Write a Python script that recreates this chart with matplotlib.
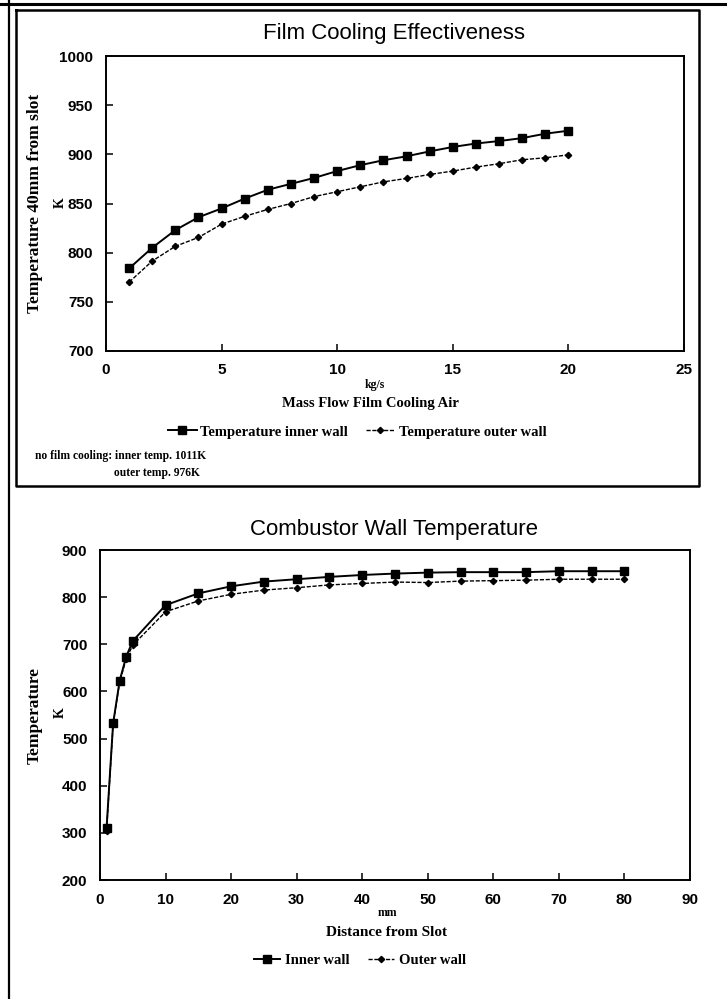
import matplotlib
matplotlib.use("Agg")
import matplotlib.pyplot as plt
from matplotlib import font_manager
from matplotlib.lines import Line2D

# ---- data -------------------------------------------------------------
flow_kgs = [1, 2, 3, 4, 5, 6, 7, 8, 9, 10, 11, 12, 13, 14, 15, 16, 17, 18, 19, 20]
temp_inner_flow = [784, 805, 823, 836, 845, 855, 864, 870, 876, 883,
                   889, 894, 898, 903, 907.5, 911, 913.5, 916.5, 921, 924]
temp_outer_flow = [770, 791.5, 806.5, 815.5, 829, 837, 844, 850, 857, 862,
                   867, 872, 875.5, 879.5, 883, 887, 890.5, 894.5, 896.5, 899.5]

dist_mm = [1, 2, 3, 4, 5, 10, 15, 20, 25, 30, 35, 40, 45, 50, 55, 60, 65, 70, 75, 80]
temp_inner_wall = [310, 532, 623, 674, 707, 783, 808, 823, 833, 838,
                   843, 847, 850, 852, 853, 853, 853, 855, 855, 855]
temp_outer_wall = [305, 530, 620, 669, 698, 769, 792, 806, 815, 820,
                   826, 829, 832, 831, 834, 835, 836, 838, 838, 838]

flow_xticks = [0, 5, 10, 15, 20, 25]
flow_yticks = [700, 750, 800, 850, 900, 950, 1000]
dist_xticks = [0, 10, 20, 30, 40, 50, 60, 70, 80, 90]
dist_yticks = [200, 300, 400, 500, 600, 700, 800, 900]

# ---- fonts --------------------------------------------------------------
_available = {f.name for f in font_manager.fontManager.ttflist}


def pick(*names):
    for n in names:
        if n in _available:
            return n
    return "DejaVu Sans"


SANS = pick("Liberation Sans", "Arial", "DejaVu Sans")
NARROW = pick("Liberation Sans Narrow", "DejaVu Sans Condensed", "Liberation Sans")
SERIF = pick("Liberation Serif", "DejaVu Serif")

W, H = 727, 999
fig = plt.figure(figsize=(W / 100, H / 100), dpi=100)
fig.patch.set_facecolor("white")


def fx(x):
    return x / W


def fy(y):
    return 1 - y / H


def axes_px(left, top, right, bottom):
    return fig.add_axes([fx(left), fy(bottom), (right - left) / W, (bottom - top) / H])


def style_axes(ax, xticks, yticks):
    ax.set_xticks(xticks)
    ax.set_yticks(yticks)
    ax.set_xlim(xticks[0], xticks[-1])
    ax.set_ylim(yticks[0], yticks[-1])
    ax.tick_params(direction="in", length=5, width=1.1, color="black",
                   labelsize=11, pad=9)
    for lab in ax.get_xticklabels() + ax.get_yticklabels():
        lab.set_fontfamily(NARROW)
        lab.set_fontweight("bold")
    for s in ax.spines.values():
        s.set_linewidth(1.4)
        s.set_color("black")


inner_style = dict(color="black", lw=1.4, ls="-", marker="s", ms=5.2,
                   mfc="black", mec="black")
outer_style = dict(color="black", lw=1.0, ls=(0, (3, 1.2)), marker="D", ms=3.2,
                   mfc="black", mec="black")

# ---- page frame ----------------------------------------------------------
fig.add_artist(Line2D([0, 1], [fy(4), fy(4)], transform=fig.transFigure,
                      color="black", lw=2.2))
fig.add_artist(Line2D([fx(9), fx(9)], [fy(0), fy(999)], transform=fig.transFigure,
                      color="black", lw=1.6))
box_x = [fx(16), fx(699), fx(699), fx(16), fx(16)]
box_y = [fy(10), fy(10), fy(486), fy(486), fy(10)]
fig.add_artist(Line2D(box_x, box_y, transform=fig.transFigure, color="black", lw=1.8))

# ---- upper chart: film cooling effectiveness ----------------------------
ax1 = axes_px(106, 56, 684, 351)
ax1.plot(flow_kgs, temp_inner_flow, label="Temperature inner wall", **inner_style)
ax1.plot(flow_kgs, temp_outer_flow, label="Temperature outer wall", **outer_style)
style_axes(ax1, flow_xticks, flow_yticks)

fig.text(fx(394), fy(33), "Film Cooling Effectiveness", family=SANS, fontsize=16,
         ha="center", va="center")
fig.text(fx(35), fy(203), "Temperature 40mm from slot", family=SERIF, fontsize=12.5,
         fontweight="bold", rotation=90, ha="center", va="center")
fig.text(fx(60), fy(203), "K", family=SERIF, fontsize=10, fontweight="bold",
         rotation=90, ha="center", va="center")
fig.text(fx(375), fy(385), "kg/s", family=SERIF, fontsize=8.5, fontweight="bold",
         ha="center", va="center")
fig.text(fx(370), fy(404), "Mass Flow Film Cooling Air", family=SERIF, fontsize=10.5,
         fontweight="bold", ha="center", va="center")
ax1.legend(loc="center", bbox_to_anchor=(fx(357), fy(432)),
           bbox_transform=fig.transFigure, ncol=2, frameon=False,
           handlelength=2.0, handletextpad=0.25, columnspacing=1.2,
           numpoints=1, prop=dict(family=SERIF, size=10.5, weight="bold"))
fig.text(fx(35), fy(456), "no film cooling: inner temp. 1011K", family=SERIF,
         fontsize=8.3, fontweight="bold", ha="left", va="center")
fig.text(fx(114), fy(473), "outer temp. 976K", family=SERIF,
         fontsize=8.3, fontweight="bold", ha="left", va="center")

# ---- lower chart: combustor wall temperature ----------------------------
ax2 = axes_px(100, 550, 690, 880)
ax2.plot(dist_mm, temp_inner_wall, label="Inner wall", **inner_style)
ax2.plot(dist_mm, temp_outer_wall, label="Outer wall", **outer_style)
style_axes(ax2, dist_xticks, dist_yticks)

fig.text(fx(394), fy(530), "Combustor Wall Temperature", family=SANS, fontsize=16,
         ha="center", va="center")
fig.text(fx(35), fy(715), "Temperature", family=SERIF, fontsize=12.5,
         fontweight="bold", rotation=90, ha="center", va="center")
fig.text(fx(60), fy(713), "K", family=SERIF, fontsize=10, fontweight="bold",
         rotation=90, ha="center", va="center")
fig.text(fx(387), fy(913), "mm", family=SERIF, fontsize=8.5, fontweight="bold",
         ha="center", va="center")
fig.text(fx(387), fy(932), "Distance from Slot", family=SERIF, fontsize=11,
         fontweight="bold", ha="center", va="center")
ax2.legend(loc="center", bbox_to_anchor=(fx(360), fy(960)),
           bbox_transform=fig.transFigure, ncol=2, frameon=False,
           handlelength=1.8, handletextpad=0.3, columnspacing=1.3,
           numpoints=1, prop=dict(family=SERIF, size=10.5, weight="bold"))

fig.savefig("out.png", dpi=100, facecolor="white")
